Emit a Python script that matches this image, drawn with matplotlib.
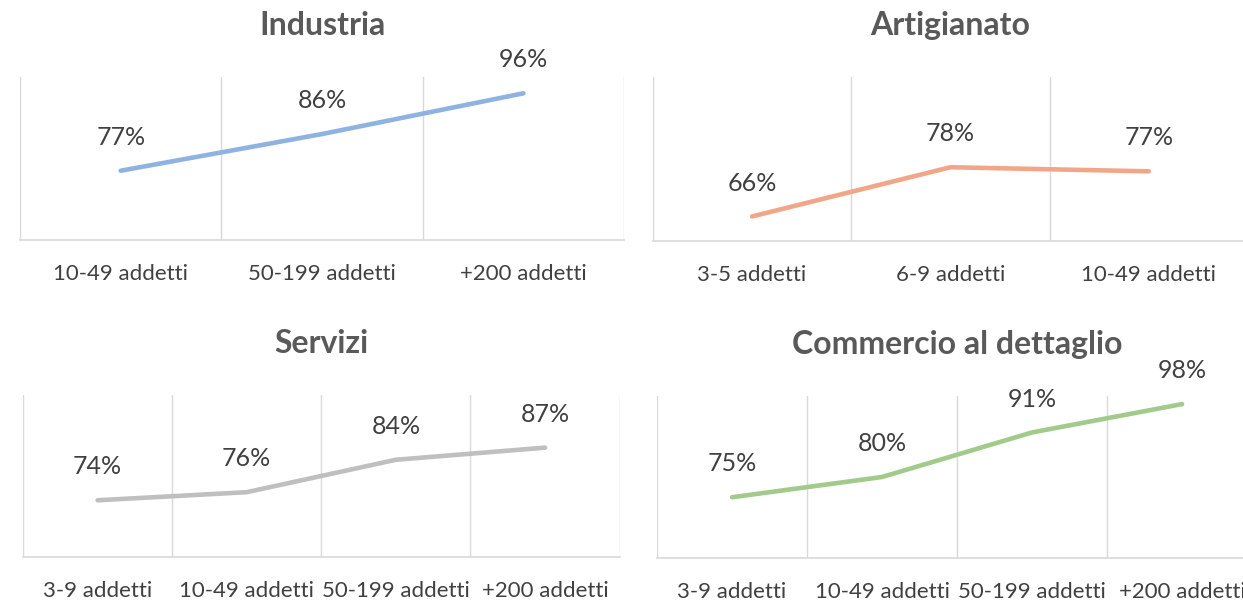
import matplotlib
matplotlib.use('Agg')
import matplotlib.pyplot as plt

plt.rcParams['font.family'] = ['Lato', 'DejaVu Sans']

# data for each panel
industria_labels = ['10-49 addetti', '50-199 addetti', '+200 addetti']
industria_values = [0.77, 0.86, 0.96]

artigianato_labels = ['3-5 addetti', '6-9 addetti', '10-49 addetti']
artigianato_values = [0.66, 0.78, 0.77]

servizi_labels = ['3-9 addetti', '10-49 addetti', '50-199 addetti', '+200 addetti']
servizi_values = [0.74, 0.76, 0.84, 0.87]

commercio_labels = ['3-9 addetti', '10-49 addetti', '50-199 addetti', '+200 addetti']
commercio_values = [0.75, 0.80, 0.91, 0.98]

panels = [
    ('Industria', industria_labels, industria_values, '#8FB3E0', [0.0161, 0.600, 0.486, 0.2717]),
    ('Artigianato', artigianato_labels, artigianato_values, '#F1A787', [0.5253, 0.5983, 0.4787, 0.2733]),
    ('Servizi', servizi_labels, servizi_values, '#BFBFBF', [0.0185, 0.0717, 0.480, 0.270]),
    ('Commercio al dettaglio', commercio_labels, commercio_values, '#A2CA8A', [0.5286, 0.070, 0.4827, 0.270]),
]

text_col = '#404040'
grid_col = '#D9D9D9'

fig = plt.figure(figsize=(12.43, 6.0), dpi=100)

for title, labels, values, color, rect in panels:
    ax = fig.add_axes(rect)
    n = len(labels)
    x = list(range(n))
    ax.plot(x, values, color=color, linewidth=3.3, solid_capstyle='round', zorder=3)
    for xi, v in zip(x, values):
        ax.annotate(f'{round(v * 100)}%', (xi, v), xytext=(0, 24), textcoords='offset points',
                    ha='center', va='center', fontsize=18, color=text_col, zorder=4)
    # gridlines between categories, Excel-style
    for k in range(n + 1):
        ax.axvline(k - 0.5, color=grid_col, linewidth=1, zorder=1)
    ax.set_xlim(-0.5, n - 0.5)
    ax.set_ylim(0.6, 1.0)
    ax.set_xticks(x)
    ax.set_xticklabels(labels, fontsize=16, color=text_col)
    ax.tick_params(axis='x', length=0, pad=17)
    ax.set_yticks([])
    for s in ['top', 'left', 'right']:
        ax.spines[s].set_visible(False)
    ax.spines['bottom'].set_color(grid_col)
    ax.spines['bottom'].set_linewidth(1.2)
    ax.annotate(title, (0.5, 1.0), xycoords='axes fraction', xytext=(0, 37),
                textcoords='offset points', ha='center', va='center',
                fontsize=23, fontweight='bold', color='#595959')

fig.savefig('out.png', dpi=100)
